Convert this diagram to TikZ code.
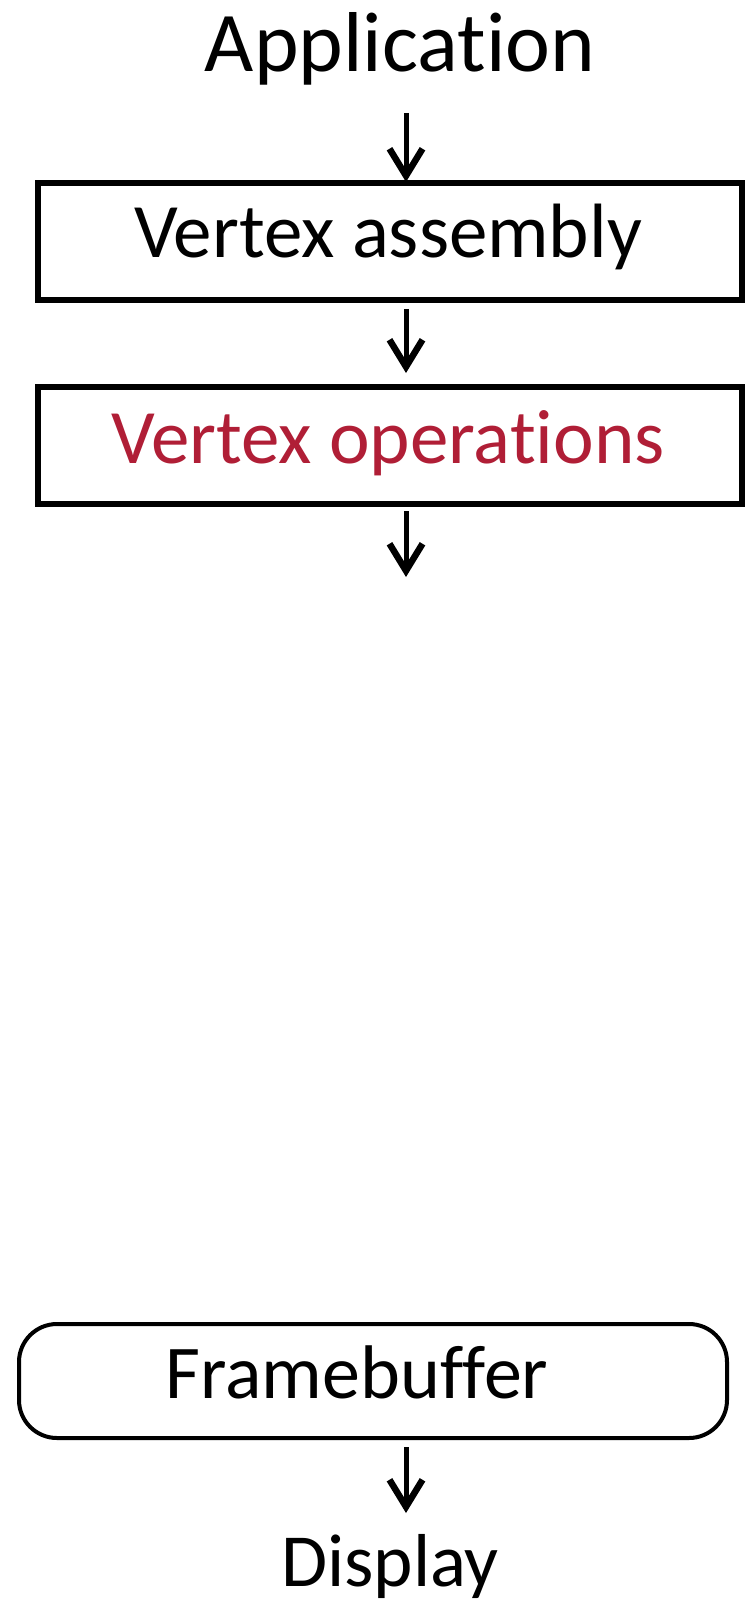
\documentclass[tikz,border=0pt]{standalone}
\usepackage{fontspec}
\setmainfont{Carlito}[Ligatures={NoCommon,NoContextual}]
\usetikzlibrary{arrows.meta}
\definecolor{opred}{RGB}{176,30,54}
\begin{document}
\begin{tikzpicture}[x=1pt,y=-1pt,
  stagebox/.style={draw, line width=6pt, inner sep=0pt, minimum width=704pt, minimum height=117pt},
  fbbox/.style={draw, line width=4pt, inner sep=0pt, rounded corners=38pt, minimum width=708pt, minimum height=114pt},
  lbl/.style={inner sep=0pt, anchor=base, font=\fontsize{77pt}{88pt}\selectfont},
  biglbl/.style={lbl, font=\fontsize{85pt}{96pt}\selectfont},
  arr/.style={line width=5pt, -{Straight Barb[length=27pt, width=33pt, line width=6.5pt, line join=miter]}}]
\fill[white] (0,0) rectangle (753,1602);
\useasboundingbox (0,0) rectangle (753,1602);
\coordinate (ax) at (406,0);
\node[biglbl] (app) at (400,72) {Application};
\node[stagebox] (box1) at (390,241.5) {};
\node[lbl] (t1) at (388,258) {Vertex assembly};
\node[stagebox] (box2) at (390,445.5) {};
\node[lbl, text=opred] (t2) at (388,463) {Vertex operations};
\coordinate (e3) at (406,577);
\node[fbbox] (fb) at (373,1381) {};
\node[lbl, font=\fontsize{76pt}{88pt}\selectfont] (t3) at (357,1398) {Framebuffer};
\node[lbl, font=\fontsize{75pt}{88pt}\selectfont] (disp) at (390,1586) {Display};
\draw[arr, shorten <=41pt, shorten >=-2pt] (app.base -| ax) -- (box1.north -| ax);
\draw[arr, shorten <=6pt, shorten >=11pt] (box1.south -| ax) -- (box2.north -| ax);
\draw[arr, shorten <=4pt] (box2.south -| ax) -- (e3);
\draw[arr, shorten <=7pt, shorten >=73pt] (fb.south -| ax) -- (disp.base -| ax);
\end{tikzpicture}
\end{document}
